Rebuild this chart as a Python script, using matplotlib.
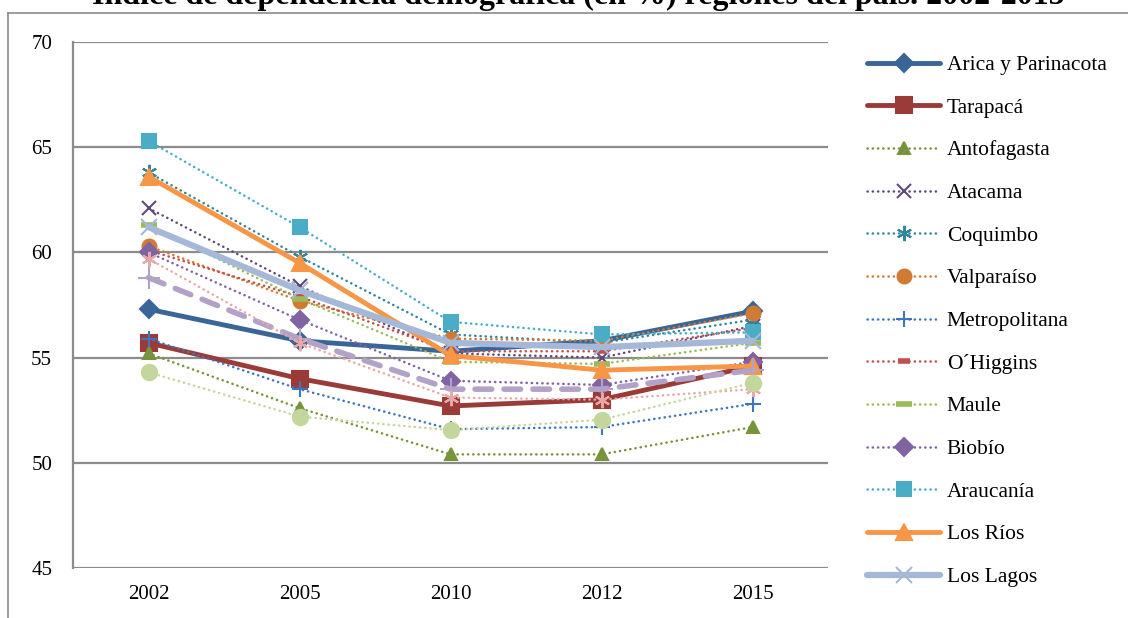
import matplotlib.pyplot as plt
from matplotlib.lines import Line2D

years = ["2002", "2005", "2010", "2012", "2015"]

arica = [57.3, 55.8, 55.3, 55.8, 57.2]
tarapaca = [55.7, 54.0, 52.7, 53.0, 54.6]
antofagasta = [55.2, 52.6, 50.4, 50.4, 51.7]
atacama = [62.1, 58.4, 55.2, 55.0, 56.5]
coquimbo = [63.8, 59.8, 56.1, 55.7, 56.8]
valparaiso = [60.3, 57.7, 55.9, 55.8, 57.1]
metropolitana = [55.9, 53.5, 51.6, 51.7, 52.8]
ohiggins = [60.1, 57.9, 55.3, 55.3, 56.4]
maule = [61.3, 57.8, 54.8, 54.7, 55.7]
biobio = [60.0, 56.8, 53.9, 53.7, 54.8]
araucania = [65.3, 61.2, 56.7, 56.1, 56.2]
los_rios = [63.6, 59.5, 55.1, 54.4, 54.6]
los_lagos = [61.2, 58.2, 55.7, 55.5, 55.8]
aysen = [58.8, 55.9, 53.5, 53.5, 54.4]
magallanes = [59.7, 55.7, 53.1, 53.0, 53.5]
pais = [54.3, 52.2, 51.55, 52.05, 53.8]

serif = "Liberation Serif"
x = list(range(len(years)))
dots = (0, (0.1, 2.0))

fig = plt.figure(figsize=(11.28, 6.18), dpi=100)
ax = fig.add_axes([73 / 1128, 1 - 568 / 618, 755 / 1128, 526 / 618])

# (label, data, color, linestyle, lw, marker, ms)
series = [
    ("Arica y Parinacota", arica, "#3A6597", "-", 3.5, "D", 9),
    ("Tarapacá", tarapaca, "#9B3B38", "-", 3.5, "s", 12),
    ("Antofagasta", antofagasta, "#77933C", dots, 1.8, "^", 9),
    ("Atacama", atacama, "#604A7B", dots, 1.8, "x", 10),
    ("Coquimbo", coquimbo, "#31859C", dots, 1.8, (6, 2, 0), 11),
    ("Valparaíso", valparaiso, "#D07A33", dots, 1.8, "o", 10),
    ("Metropolitana", metropolitana, "#3E75BD", dots, 1.8, "+", 11),
    ("O´Higgins", ohiggins, "#C0504D", dots, 1.8, "_", 9),
    ("Maule", maule, "#9BBB59", dots, 1.8, "_", 11),
    ("Biobío", biobio, "#8064A2", dots, 1.8, "D", 9),
    ("Araucanía", araucania, "#4BACC6", dots, 1.8, "s", 10),
    ("Los Ríos", los_rios, "#F79646", "-", 3.5, "^", 12),
    ("Los Lagos", los_lagos, "#A5B8D7", "-", 4.5, "x", 11),
    ("Aysén", aysen, "#B3A2C7", (0, (3, 2.2)), 4, "+", 16),
    ("Magallanes", magallanes, "#E6A9A7", dots, 1.8, (6, 2, 0), 11),
    ("País", pais, "#C3D69B", dots, 1.8, "o", 11),
]

handles = []
for label, vals, color, ls, lw, mk, ms in series:
    mew = 4 if mk == "_" else 1.5
    line, = ax.plot(x, vals, color=color, linestyle=ls, linewidth=lw,
                    marker=mk, markersize=ms, markerfacecolor=color,
                    markeredgecolor=color, markeredgewidth=mew,
                    solid_capstyle="round", dash_capstyle="round", label=label)
    handles.append(line)

ax.set_xlim(-0.5, 4.5)
ax.set_ylim(45, 70)
ax.set_yticks(range(45, 71, 5))
ax.set_xticks(x)
ax.set_xticklabels(years)
ax.grid(axis="y", color="#8C8C8C", linewidth=1.6)
ax.set_axisbelow(True)
for side in ["top", "right", "bottom"]:
    ax.spines[side].set_visible(False)
ax.spines["left"].set_color("#8C8C8C")
ax.spines["left"].set_linewidth(1.6)
ax.tick_params(length=0, labelsize=15)
ax.tick_params(axis="y", pad=15)
ax.tick_params(axis="x", pad=12)
for t in ax.get_xticklabels() + ax.get_yticklabels():
    t.set_fontfamily(serif)

# only the first 13 regions fit in the legend
fig.legend(handles=handles[:13], loc="upper left",
           bbox_to_anchor=(867 / 1128, 1 - 55 / 618), frameon=False,
           prop={"family": serif, "size": 15.5}, handlelength=3.4,
           handletextpad=0.3, labelspacing=1.05, borderpad=0, borderaxespad=0)

fig.text(578 / 1128, 1 - 4 / 618,
         "Índice de dependencia demográfica (en %) regiones del país. 2002-2015",
         ha="center", va="baseline", fontsize=23, fontweight="bold", family=serif)

# frame around the chart area
fig.add_artist(Line2D([8 / 1128, 8 / 1128], [0, 1 - 13 / 618], color="#8C8C8C", lw=1.2))
fig.add_artist(Line2D([8 / 1128, 1], [1 - 13 / 618, 1 - 13 / 618], color="#8C8C8C", lw=1.2))

fig.savefig("out.png", dpi=100)
